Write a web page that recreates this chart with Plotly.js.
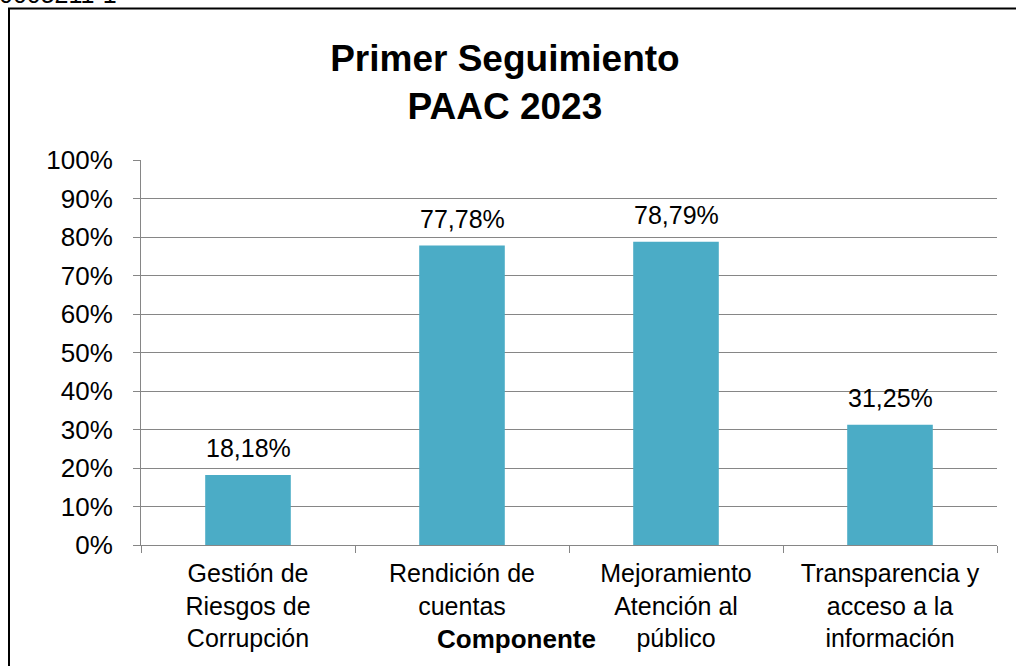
<!DOCTYPE html>
<html>
<head>
<meta charset="utf-8">
<script src="https://cdn.plot.ly/plotly-3.0.1.min.js"></script>
<style>html,body{margin:0;padding:0;background:#fff;}#chart{width:1016px;height:666px;}</style>
</head>
<body>
<div id="chart"></div>
<script>
const categories = [
  "Gestión de<br>Riesgos de<br>Corrupción",
  "Rendición de<br>cuentas",
  "Mejoramiento<br>Atención al<br>público",
  "Transparencia y<br>acceso a la<br>información"
];
const values = [18.18, 77.78, 78.79, 31.25];
const valueLabels = ["18,18%", "77,78%", "78,79%", "31,25%"];
const yTickVals = [0, 10, 20, 30, 40, 50, 60, 70, 80, 90, 100];
const yTickText = ["0%", "10%", "20%", "30%", "40%", "50%", "60%", "70%", "80%", "90%", "100%"];
const chartTitle = "Primer Seguimiento<br>PAAC 2023";
const axisTitle = "Componente";
const topLeftText = "0005211-1";

const W = 1016, H = 666;
const L = 141, R = 997, T = 160, B = 545;
const px = x => (x - L) / (R - L);
const py = y => (B - y) / (B - T);

const font = "Liberation Sans, Arial, sans-serif";

const trace = {
  type: "bar",
  x: categories,
  y: values,
  marker: {color: "#4BACC6"},
  hoverinfo: "skip"
};

const annotations = values.map((v, i) => ({
  x: categories[i], y: v, xref: "x", yref: "y",
  text: valueLabels[i], showarrow: false,
  yanchor: "bottom", yshift: 11,
  font: {family: font, size: 25, color: "#000"}
}));
annotations.push({
  xref: "paper", yref: "paper", x: px(516), y: py(639),
  text: "<b>" + axisTitle + "</b>", showarrow: false,
  xanchor: "center", yanchor: "middle",
  font: {family: font, size: 26, color: "#000"}
});
annotations.push({
  xref: "paper", yref: "paper", x: px(-3), y: py(10),
  text: topLeftText, showarrow: false,
  xanchor: "left", yanchor: "bottom",
  font: {family: font, size: 25, color: "#000"}
});

const layout = {
  width: W, height: H,
  margin: {l: L, r: W - R, t: T, b: H - B, pad: 0},
  paper_bgcolor: "#fff",
  plot_bgcolor: "#fff",
  showlegend: false,
  bargap: 0.6,
  title: {
    text: "<b>" + chartTitle + "</b>",
    x: 0.497, xanchor: "center",
    y: 1 - 71 / H, yanchor: "middle",
    font: {family: font, size: 37, color: "#000"}
  },
  xaxis: {
    type: "category",
    tickson: "boundaries",
    ticks: "outside", ticklen: 7, tickcolor: "#868686", tickwidth: 1,
    showline: true, linecolor: "#868686", linewidth: 1,
    showgrid: false,
    tickfont: {family: font, size: 25, color: "#000"},
    ticklabelstandoff: 6,
    fixedrange: true
  },
  yaxis: {
    range: [0, 100],
    tickvals: yTickVals, ticktext: yTickText,
    ticks: "outside", ticklen: 7, tickcolor: "#868686", tickwidth: 1,
    showline: true, linecolor: "#868686", linewidth: 1,
    showgrid: true, gridcolor: "#868686", gridwidth: 1,
    zeroline: false,
    tickfont: {family: font, size: 26, color: "#000"},
    ticklabelstandoff: 15,
    fixedrange: true
  },
  annotations: annotations,
  shapes: [
    {type: "line", xref: "paper", yref: "paper", x0: px(9), x1: px(9), y0: py(8), y1: py(700),
     line: {color: "#000", width: 2}},
    {type: "line", xref: "paper", yref: "paper", x0: px(8), x1: px(1030), y0: py(8.5), y1: py(8.5),
     line: {color: "#000", width: 2}}
  ]
};

Plotly.newPlot("chart", [trace], layout, {displayModeBar: false, staticPlot: true});
</script>
</body>
</html>
